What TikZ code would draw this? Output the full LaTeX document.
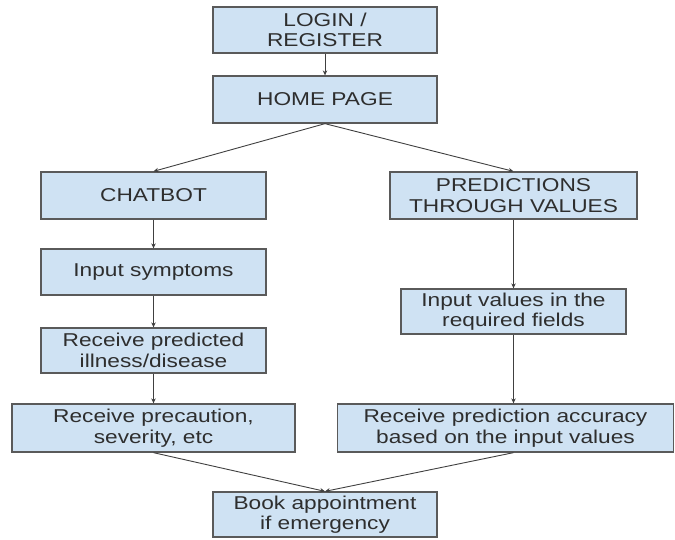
\documentclass[tikz,border=0pt]{standalone}
\usepackage{fontspec}
\setmainfont{Liberation Sans}[FakeStretch=1.22]
\usetikzlibrary{arrows.meta}
\definecolor{boxfill}{HTML}{CFE2F3}
\definecolor{boxline}{HTML}{5A5A5A}
\definecolor{txt}{HTML}{2E2E2E}
\definecolor{conn}{HTML}{404040}
\tikzset{
  box/.style={draw=boxline, line width=1.3pt, fill=boxfill, inner sep=0pt,
    align=center, text=txt, font=\fontsize{18.6}{20.5}\selectfont},
  conn/.style={draw=conn, line width=0.9pt, -{Stealth[length=5pt,width=4.5pt]}}
}
\begin{document}
\begin{tikzpicture}[x=1pt,y=-1pt]
\useasboundingbox (0,0) rectangle (675,539);
\node[box, minimum width=224pt, minimum height=46pt] (login) at (325,30) {LOGIN /\\REGISTER};
\node[box, minimum width=224pt, minimum height=47pt] (home) at (325,99.5) {HOME PAGE};
\node[box, minimum width=225pt, minimum height=47pt] (chat) at (153.5,195.5) {CHATBOT};
\node[box, minimum width=247pt, minimum height=47pt] (pred) at (513.5,195.5) {PREDICTIONS\\THROUGH VALUES};
\node[box, minimum width=225pt, minimum height=46pt] (symp) at (153.5,272) {Input symptoms};
\node[box, minimum width=225pt, minimum height=45pt] (ill) at (153.5,350.5) {Receive predicted\\illness/disease};
\node[box, minimum width=225pt, minimum height=45pt] (vals) at (513.5,311.5) {Input values in the\\required fields};
\node[box, minimum width=283pt, minimum height=48pt] (prec) at (153.5,428) {Receive precaution,\\severity, etc};
\node[box, minimum width=336pt, minimum height=48pt] (acc) at (505.5,428) {Receive prediction accuracy\\based on the input values};
\node[box, minimum width=224pt, minimum height=45pt] (book) at (325,514.5) {Book appointment\\if emergency};
\draw[conn] (login) -- (home);
\draw[conn] (home.south) -- (chat.north);
\draw[conn] (home.south) -- (pred.north);
\draw[conn] (chat) -- (symp);
\draw[conn] (symp) -- (ill);
\draw[conn] (ill) -- (prec.north);
\draw[conn] (pred) -- (vals);
\draw[conn] (vals.south) -- (vals.south |- acc.north);
\draw[conn] (prec.south) -- (book.north);
\draw[conn] (acc.south -| vals.south) -- (book.north);
\end{tikzpicture}
\end{document}
